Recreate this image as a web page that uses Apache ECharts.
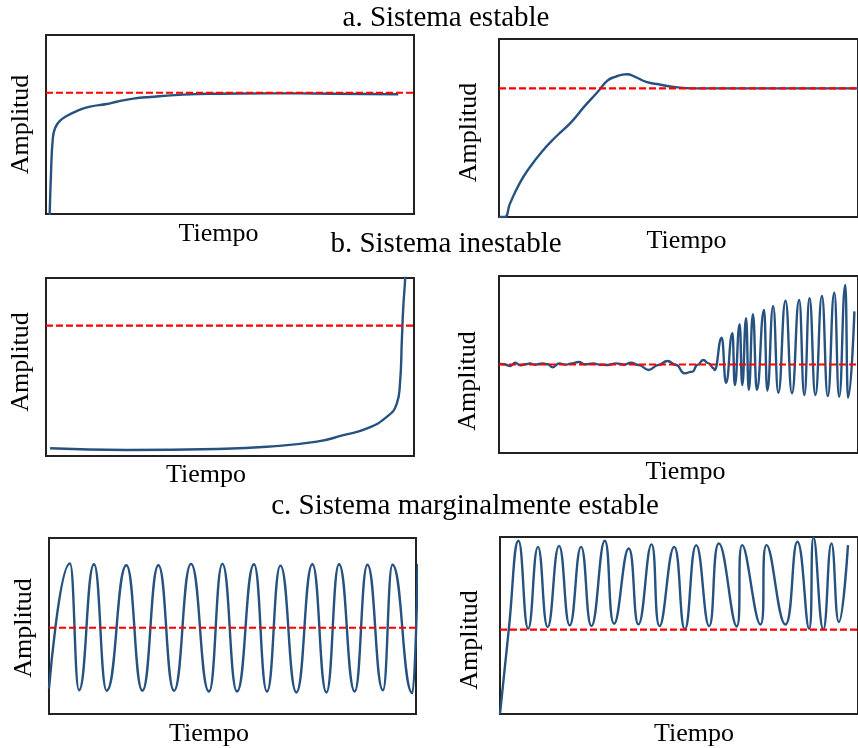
<!DOCTYPE html>
<html><head><meta charset="utf-8">
<script src="https://cdn.jsdelivr.net/npm/echarts@6/dist/echarts.min.js"></script>
<style>html,body{margin:0;padding:0;background:#fff}#c{width:858px;height:748px}</style>
</head><body><div id="c"></div>
<script>
// ---- section titles ----
const sectionTitles = ['a. Sistema estable', 'b. Sistema inestable', 'c. Sistema marginalmente estable'];
const xName = 'Tiempo';
const yName = 'Amplitud';

// ---- panel a1: overdamped stable response ----
const tA1 = [0.10, 0.136, 0.182, 0.245, 0.38, 0.563, 0.834, 1.196, 1.649, 1.921, 2.372, 2.826, 3.731, 4.639, 5.997, 7.807, 9.573];
const vA1 = [-0.008, 0.336, 0.61, 0.707, 0.769, 0.808, 0.849, 0.885, 0.907, 0.926, 0.951, 0.965, 0.984, 0.992, 0.995, 0.992, 0.987];
// ---- panel a2: underdamped stable response ----
const tA2 = [0, 0.16, 0.30, 0.57, 0.84, 1.20, 1.57, 2.02, 2.38, 2.74, 3.02, 3.24, 3.56, 3.79, 4.10, 4.47, 4.92, 5.37, 7.5, 10];
const vA2 = [0, 0, 0.10, 0.26, 0.38, 0.51, 0.62, 0.74, 0.86, 0.97, 1.06, 1.09, 1.11, 1.09, 1.05, 1.03, 1.01, 1.0, 1.0, 1.0];
// ---- panel b1: divergent response ----
const tB1 = [0.11, 2.19, 4.64, 6.0, 7.36, 8.08, 8.71, 9.26, 9.53, 9.62, 9.67, 9.71, 9.76, 9.80];
const vB1 = [0.059, 0.046, 0.054, 0.071, 0.11, 0.16, 0.21, 0.30, 0.40, 0.56, 0.89, 1.15, 1.36, 1.65];
// ---- panel b2: growing oscillation ----
const tB2 = [0, 0.136, 0.317, 0.453, 0.589, 0.725, 0.861, 0.997, 1.223, 1.359, 1.495, 1.676, 1.857, 2.038, 2.219, 2.4, 2.627, 2.808, 3.035, 3.261, 3.487, 3.668, 3.895, 4.167, 4.438, 4.692, 4.937, 5.163, 5.389, 5.524, 5.688, 5.842, 5.978, 6.005,
  6.204, 6.323, 6.503, 6.568, 6.704, 6.775, 6.883, 6.957, 7.073, 7.182, 7.383, 7.473, 7.636, 7.780, 7.981, 8.160, 8.361, 8.505, 8.649, 8.813, 8.995, 9.158, 9.340, 9.475, 9.647, 9.720, 9.90];
const vB2 = [0.013, 0.002, -0.017, 0.02, -0.009, 0.002, 0.013, -0.002, 0.013, 0.002, -0.032, 0.013, -0.002, 0.013, 0.028, 0.002, 0.013, -0.002, -0.006, 0.013, -0.002, 0.02, -0.006, -0.062, -0.006, 0.04, -0.006, -0.1, -0.081, -0.006, 0.051, 0.013, -0.043, -0.062,
  0.303, -0.206, 0.353, -0.232, 0.454, -0.232, 0.522, -0.288, 0.567, -0.288, 0.616, -0.296, 0.661, -0.319, 0.721, -0.325, 0.729, -0.345, 0.748, -0.345, 0.774, -0.356, 0.811, -0.364, 0.898, -0.375, 0.6];
// ---- panel c1: sustained oscillation ----
const tC1 = [0, 0.572, 0.817, 1.226, 1.572, 2.109, 2.545, 2.981, 3.406, 3.869, 4.36, 4.725, 5.123, 5.586, 5.94, 6.305, 6.741, 7.177, 7.559, 7.902, 8.33, 8.676, 9.10, 9.357, 9.902, 10.05];
const vC1 = [-0.706, 0.744, -0.724, 0.736, -0.73, 0.725, -0.73, 0.725, -0.73, 0.74, -0.74, 0.74, -0.74, 0.735, -0.74, 0.72, -0.75, 0.735, -0.75, 0.735, -0.74, 0.73, -0.725, 0.73, -0.76, 0.74];
// ---- panel c2: sustained oscillation above setpoint ----
const tC2 = [0, 0.245, 0.516, 0.788, 1.06, 1.332, 1.649, 1.948, 2.264, 2.554, 2.927, 3.188, 3.595, 3.867, 4.231, 4.457, 4.864, 5.163, 5.481, 5.842, 6.114, 6.611, 6.766, 7.274, 7.446, 7.970, 8.307, 8.633, 8.759, 9.030, 9.258, 9.465, 9.720];
const vC2 = [0, 1.0, 2.055, 1.012, 1.983, 1.031, 1.995, 1.051, 1.983, 1.043, 2.055, 1.071, 1.964, 1.063, 2.012, 1.043, 1.983, 1.004, 2.004, 1.043, 2.024, 1.039, 2.004, 1.061, 2.004, 1.061, 2.043, 1.012, 2.096, 1.004, 2.024, 1.092, 2.004];

// ---- setpoint (reference) level per panel ----
const setpoints = [1, 1, 1, 0, 0, 1];
const yMin = [0, 0, 0, -1, -1, 0];
const yMax = [1.476, 1.384, 1.366, 1, 1.04, 2.10];
const tRange = [0, 10];

const panels = [[tA1, vA1], [tA2, vA2], [tB1, vB1], [tB2, vB2], [tC1, vC1], [tC2, vC2]];
const monotone = [null, null, null, 'x', 'x', null];

const FONT = "'Liberation Serif', 'Times New Roman', serif";
const BLUE = '#26527f';
const RED = '#ff0000';

const gridPos = [
  {left: 46, top: 35, width: 368, height: 179},
  {left: 499, top: 39, width: 368, height: 178},
  {left: 46, top: 278, width: 368, height: 178},
  {left: 499, top: 276, width: 368, height: 177},
  {left: 49, top: 538, width: 367, height: 178},
  {left: 500, top: 537, width: 368, height: 177}
];
const xNameStyle = [
  {gap: 7, pad: [0, 23, 0, 0]},
  {gap: 11, pad: [0, 0, 0, 16]},
  {gap: 6, pad: [0, 48, 0, 0]},
  {gap: 6, pad: [0, 0, 0, 14]},
  {gap: 7, pad: [0, 47, 0, 0]},
  {gap: 7, pad: [0, 0, 0, 30]}
];
const yNameStyle = [
  {gap: 12, pad: [0, 0, 0, 0]},
  {gap: 17, pad: [0, 9, 0, 0]},
  {gap: 12, pad: [0, 0, 0, 10]},
  {gap: 18, pad: [0, 33, 0, 0]},
  {gap: 12, pad: [0, 4, 0, 0]},
  {gap: 17, pad: [0, 29, 0, 0]}
];

const grids = gridPos.map(g => Object.assign({show: true, borderColor: '#222', borderWidth: 2, backgroundColor: 'transparent', containLabel: false}, g));

const xAxes = gridPos.map((g, i) => ({
  type: 'value', gridIndex: i, min: tRange[0], max: tRange[1],
  axisLine: {show: false}, axisTick: {show: false}, axisLabel: {show: false}, splitLine: {show: false},
  name: xName, nameLocation: 'middle', nameGap: xNameStyle[i].gap,
  nameTextStyle: {fontFamily: FONT, fontSize: 26, color: '#000', padding: xNameStyle[i].pad, verticalAlign: 'top'}
}));
const yAxes = gridPos.map((g, i) => ({
  type: 'value', gridIndex: i, min: yMin[i], max: yMax[i],
  axisLine: {show: false}, axisTick: {show: false}, axisLabel: {show: false}, splitLine: {show: false},
  name: yName, nameLocation: 'middle', nameGap: yNameStyle[i].gap, nameRotate: 90,
  nameTextStyle: {fontFamily: FONT, fontSize: 26, color: '#000', padding: yNameStyle[i].pad}
}));

const series = [];
panels.forEach((p, i) => {
  const [ts, vs] = p;
  series.push({
    type: 'line', xAxisIndex: i, yAxisIndex: i,
    data: ts.map((t, k) => [t, vs[k]]),
    showSymbol: false, smooth: 0.5, smoothMonotone: monotone[i], clip: true,
    lineStyle: {color: BLUE, width: 2.4}, silent: true, animation: false
  });
  series.push({
    type: 'line', xAxisIndex: i, yAxisIndex: i,
    data: [[tRange[0], setpoints[i]], [tRange[1], setpoints[i]]],
    showSymbol: false, clip: true,
    lineStyle: {color: RED, width: 2.2, type: [7, 3]}, silent: true, animation: false
  });
});

const titlePos = [{x: 446, y: 4}, {x: 446, y: 230}, {x: 465, y: 492}];
const titles = sectionTitles.map((s, i) => ({
  text: s, left: titlePos[i].x, top: titlePos[i].y, textAlign: 'center', padding: 0,
  textStyle: {fontFamily: FONT, fontSize: 29, fontWeight: 'normal', color: '#000'}
}));

const chart = echarts.init(document.getElementById('c'), null, {renderer: 'canvas'});
chart.setOption({
  animation: false,
  backgroundColor: '#fff',
  title: titles,
  grid: grids,
  xAxis: xAxes,
  yAxis: yAxes,
  series: series
});
</script></body></html>
